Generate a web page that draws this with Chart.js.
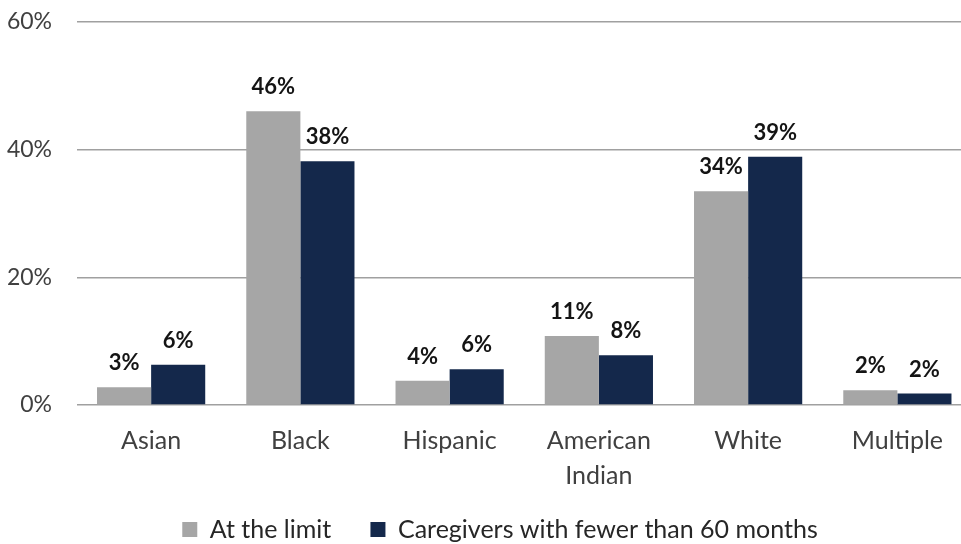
<!DOCTYPE html>
<html><head><meta charset="utf-8">
<script src="https://cdn.jsdelivr.net/npm/chart.js@4/dist/chart.umd.min.js"></script>
<style>html,body{margin:0;padding:0;background:#fff;overflow:hidden;width:961px;height:544px}#wrap{width:1000px;height:544px;position:relative}</style>
</head><body><div id="wrap"><canvas id="c" width="1000" height="544"></canvas></div>
<script>
const categories = ["Asian", "Black", "Hispanic", ["American", "Indian"], "White", "Multiple"];
const seriesNames = ["At the limit", "Caregivers with fewer than 60 months"];
const atLimit = [2.8, 46.0, 3.8, 10.8, 33.5, 2.3];
const fewer60 = [6.3, 38.2, 5.6, 7.8, 38.9, 1.8];
const atLimitLabels = ["3%", "46%", "4%", "11%", "34%", "2%"];
const fewer60Labels = ["6%", "38%", "6%", "8%", "39%", "2%"];
const yTicks = [0, 20, 40, 60];

const FONT = "Lato";
const labelPlugin = {
  id: 'vlabels',
  afterDatasetsDraw(chart) {
    const ctx = chart.ctx;
    const lbls = [atLimitLabels, fewer60Labels];
    ctx.save();
    ctx.font = "bold 22px " + FONT;
    ctx.fillStyle = "#141414";
    ctx.textAlign = "center";
    ctx.textBaseline = "alphabetic";
    chart.data.datasets.forEach((ds, i) => {
      chart.getDatasetMeta(i).data.forEach((bar, j) => {
        ctx.fillText(lbls[i][j], bar.x, bar.y - 17);
      });
    });
    ctx.restore();
  }
};

new Chart(document.getElementById('c'), {
  type: 'bar',
  data: {
    labels: categories,
    datasets: [
      { label: seriesNames[0], data: atLimit, backgroundColor: '#a6a6a6', categoryPercentage: 0.725, barPercentage: 1.0 },
      { label: seriesNames[1], data: fewer60, backgroundColor: '#14284b', categoryPercentage: 0.725, barPercentage: 1.0 }
    ]
  },
  options: {
    responsive: false,
    animation: false,
    layout: { padding: { left: 0, right: 0, top: 22, bottom: -8 } },
    plugins: {
      legend: {
        position: 'bottom',
        labels: {
          font: { family: FONT, size: 25 }, color: '#262626', boxWidth: 15, boxHeight: 15, padding: 20,
          generateLabels(chart) {
            const items = Chart.defaults.plugins.legend.labels.generateLabels(chart);
            items.forEach((it, i) => { it.lineWidth = 0; if (i === 0) it.text = it.text + '   '; });
            return items;
          }
        }
      },
      tooltip: { enabled: false }
    },
    scales: {
      x: {
        grid: { display: false },
        border: { display: false },
        ticks: { font: { family: FONT, size: 25, lineHeight: 1.4 }, color: '#404040', padding: 10, maxRotation: 0 },
        afterFit(s) { s.height = 92; }
      },
      y: {
        min: 0, max: 60,
        afterBuildTicks(s) { s.ticks = yTicks.map(v => ({ value: v })); },
        grid: { color: '#a0a0a0', lineWidth: 1.5, drawTicks: false },
        border: { display: false },
        ticks: { font: { family: FONT, size: 23 }, color: '#404040', padding: 24.5, callback: v => v + '%' },
        afterFit(s) { s.width = 76.5; s.paddingTop = 10; s.paddingBottom = 10; }
      },
      y2: {
        position: 'right', display: true, min: 0, max: 60,
        grid: { display: false }, border: { display: false },
        ticks: { display: false },
        afterFit(s) { s.width = 28; s.paddingTop = 0; s.paddingBottom = 0; }
      }
    }
  },
  plugins: [labelPlugin]
});
</script></body></html>
